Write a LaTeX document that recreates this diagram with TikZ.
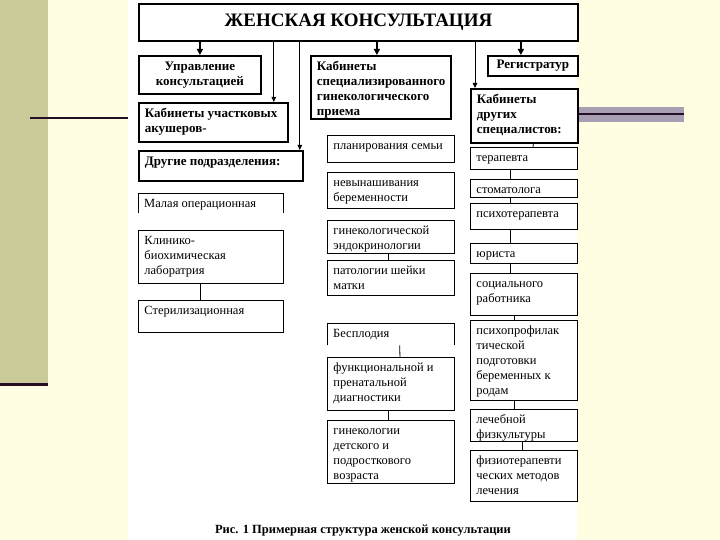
\documentclass[tikz,border=0pt]{standalone}
\usepackage{fontspec}
\setmainfont{Liberation Serif}
\usetikzlibrary{arrows.meta}

\definecolor{cream}{RGB}{255,254,226}
\definecolor{olive}{RGB}{203,203,153}
\definecolor{plum}{RGB}{38,14,36}
\definecolor{lilac}{RGB}{168,160,178}

% box text: width, height, contents (top aligned)
\newcommand{\cell}[3]{\parbox[c][\dimexpr#2pt-8pt\relax][t]{\dimexpr#1pt-12pt\relax}{\raggedright\strut#3}}

\begin{document}
\begin{tikzpicture}[x=1pt,y=-1pt,
  cell/.style={anchor=north west, inner xsep=6pt, inner ysep=4pt, font=\fontsize{12.5}{15}\selectfont},
  thinbox/.style={cell, draw, line width=0.9pt},
  thickbox/.style={cell, draw, line width=1.8pt, font=\bfseries\fontsize{13}{15}\selectfont},
  headbox/.style={thickbox, inner sep=0pt, align=center},
  arr/.style={line width=1.4pt, -{Triangle[length=6pt,width=6pt]}},
  arrthin/.style={line width=0.8pt, -{Triangle[length=5pt,width=4.5pt]}},
  link/.style={line width=0.8pt}]

  \useasboundingbox (0,0) rectangle (720,540);

  % slide background
  \fill[cream] (0,0) rectangle (720,540);
  \fill[olive] (0,0) rectangle (48,384);
  \fill[white] (128,0) rectangle (577,540);
  \draw[plum, line width=3pt] (0,384.5) -- (48,384.5);
  \draw[plum, line width=2pt] (30,118) -- (128,118);
  \fill[lilac] (577,107) rectangle (684,122);
  \draw[plum, line width=2pt] (577,114.5) -- (684,114.5);

  % top level
  \node[headbox, minimum width=439, minimum height=37,
        font=\bfseries\fontsize{19}{22}\selectfont] (main) at (138,3) {ЖЕНСКАЯ КОНСУЛЬТАЦИЯ};

  \node[headbox, minimum width=122, minimum height=38] (upr) at (138,55) {Управление\\консультацией};
  \node[thickbox] (spec) at (310,55) {\cell{140}{63}{Кабинеты\\специализированного\\гинекологического\\приема}};
  \node[headbox, minimum width=90, minimum height=20] (reg) at (487,55) {Регистратур};
  \node[thickbox] (uch) at (138,102) {\cell{149}{39}{Кабинеты участковых\\акушеров-}};
  \node[thickbox] (drug) at (470,88) {\cell{107}{54}{Кабинеты\\других\\специалистов:}};
  \node[thickbox] (oth) at (138,150) {\cell{164}{30}{Другие подразделения:}};

  % other units
  \node[cell] (malop) at (138,193) {\cell{145}{20}{Малая операционная}};
  \draw[line width=0.9pt] (malop.south west) -- (malop.north west) -- (malop.north east) -- (malop.south east);
  \node[thinbox] (klin) at (138,230) {\cell{145}{53}{Клинико-\\биохимическая\\лаборатрия}};
  \node[thinbox] (ster) at (138,300) {\cell{145}{32}{Стерилизационная}};

  % specialised gynaecology
  \node[thinbox] (plan) at (327,135) {\cell{127}{27}{планирования семьи}};
  \node[thinbox] (nevyn) at (327,172) {\cell{127}{36}{невынашивания\\беременности}};
  \node[thinbox] (endo) at (327,220) {\cell{127}{33}{гинекологической\\эндокринологии}};
  \node[thinbox] (pat) at (327,260) {\cell{127}{35}{патологии шейки\\матки}};
  \node[cell] (bespl) at (327,323) {\cell{127}{22}{Бесплодия}};
  \draw[line width=0.9pt] (bespl.south west) -- (bespl.north west) -- (bespl.north east) -- (bespl.south east);
  \node[thinbox] (func) at (327,357) {\cell{127}{53}{функциональной и\\пренатальной\\диагностики}};
  \node[thinbox] (det) at (327,420) {\cell{127}{63}{гинекологии\\детского и\\подросткового\\возраста}};

  % other specialists
  \node[thinbox] (ter) at (470,147) {\cell{107}{22}{терапевта}};
  \node[thinbox] (stom) at (470,179) {\cell{107}{18}{стоматолога}};
  \node[thinbox] (psyt) at (470,203) {\cell{107}{26}{психотерапевта}};
  \node[thinbox] (yur) at (470,243) {\cell{107}{20}{юриста}};
  \node[thinbox] (soc) at (470,273) {\cell{107}{42}{социального\\работника}};
  \node[thinbox] (psyp) at (470,320) {\cell{107}{80}{психопрофилак\\тической\\подготовки\\беременных к\\родам}};
  \node[thinbox] (lech) at (470,409) {\cell{107}{32}{лечебной\\физкультуры}};
  \node[thinbox] (fiz) at (470,450) {\cell{107}{51}{физиотерапевти\\ческих методов\\лечения}};

  \node[font=\bfseries\fontsize{12.5}{15}\selectfont] (cap) at (363,531) {Рис. 1 Примерная структура женской консультации};

  % arrows from the top box
  \coordinate (uchin) at ([xshift=-15pt]uch.north east);
  \coordinate (othin) at ([xshift=-4pt]oth.north east);
  \coordinate (specin) at ([xshift=-4pt]spec.north);
  \coordinate (drugin) at ([xshift=5pt]drug.north west);
  \coordinate (regin) at ([xshift=-12pt]reg.north);

  \draw[arr] (main.south -| upr.north) -- (upr.north);
  \draw[arrthin] (main.south -| uchin) -- (uchin);
  \draw[arrthin] (main.south -| othin) -- (othin);
  \draw[arr] (main.south -| specin) -- (specin);
  \draw[arrthin] (main.south -| drugin) -- (drugin);
  \draw[arr] (main.south -| regin) -- (regin);

  % links inside the columns
  \draw[link] ([xshift=-11pt]klin.south) -- ([xshift=-11pt]ster.north);
  \draw[link] ([xshift=-3pt]endo.south) -- ([xshift=-3pt]pat.north);
  \draw[link] ([xshift=9pt]bespl.south) -- ([xshift=9pt]func.north);
  \draw[link] ([xshift=-3pt]func.south) -- ([xshift=-3pt]det.north);
  \draw[link] ([xshift=9pt]drug.south) -- ([xshift=9pt]ter.north);
  \draw[link] ([xshift=-14pt]ter.south) -- ([xshift=-14pt]stom.north);
  \draw[link] ([xshift=-14pt]stom.south) -- ([xshift=-14pt]psyt.north);
  \draw[link] ([xshift=-14pt]psyt.south) -- ([xshift=-14pt]yur.north);
  \draw[link] ([xshift=-14pt]yur.south) -- ([xshift=-14pt]soc.north);
  \draw[link] ([xshift=-10pt]soc.south) -- ([xshift=-10pt]psyp.north);
  \draw[link] ([xshift=-10pt]psyp.south) -- ([xshift=-10pt]lech.north);
  \draw[link] ([xshift=-2pt]lech.south) -- ([xshift=-2pt]fiz.north);

\end{tikzpicture}
\end{document}
